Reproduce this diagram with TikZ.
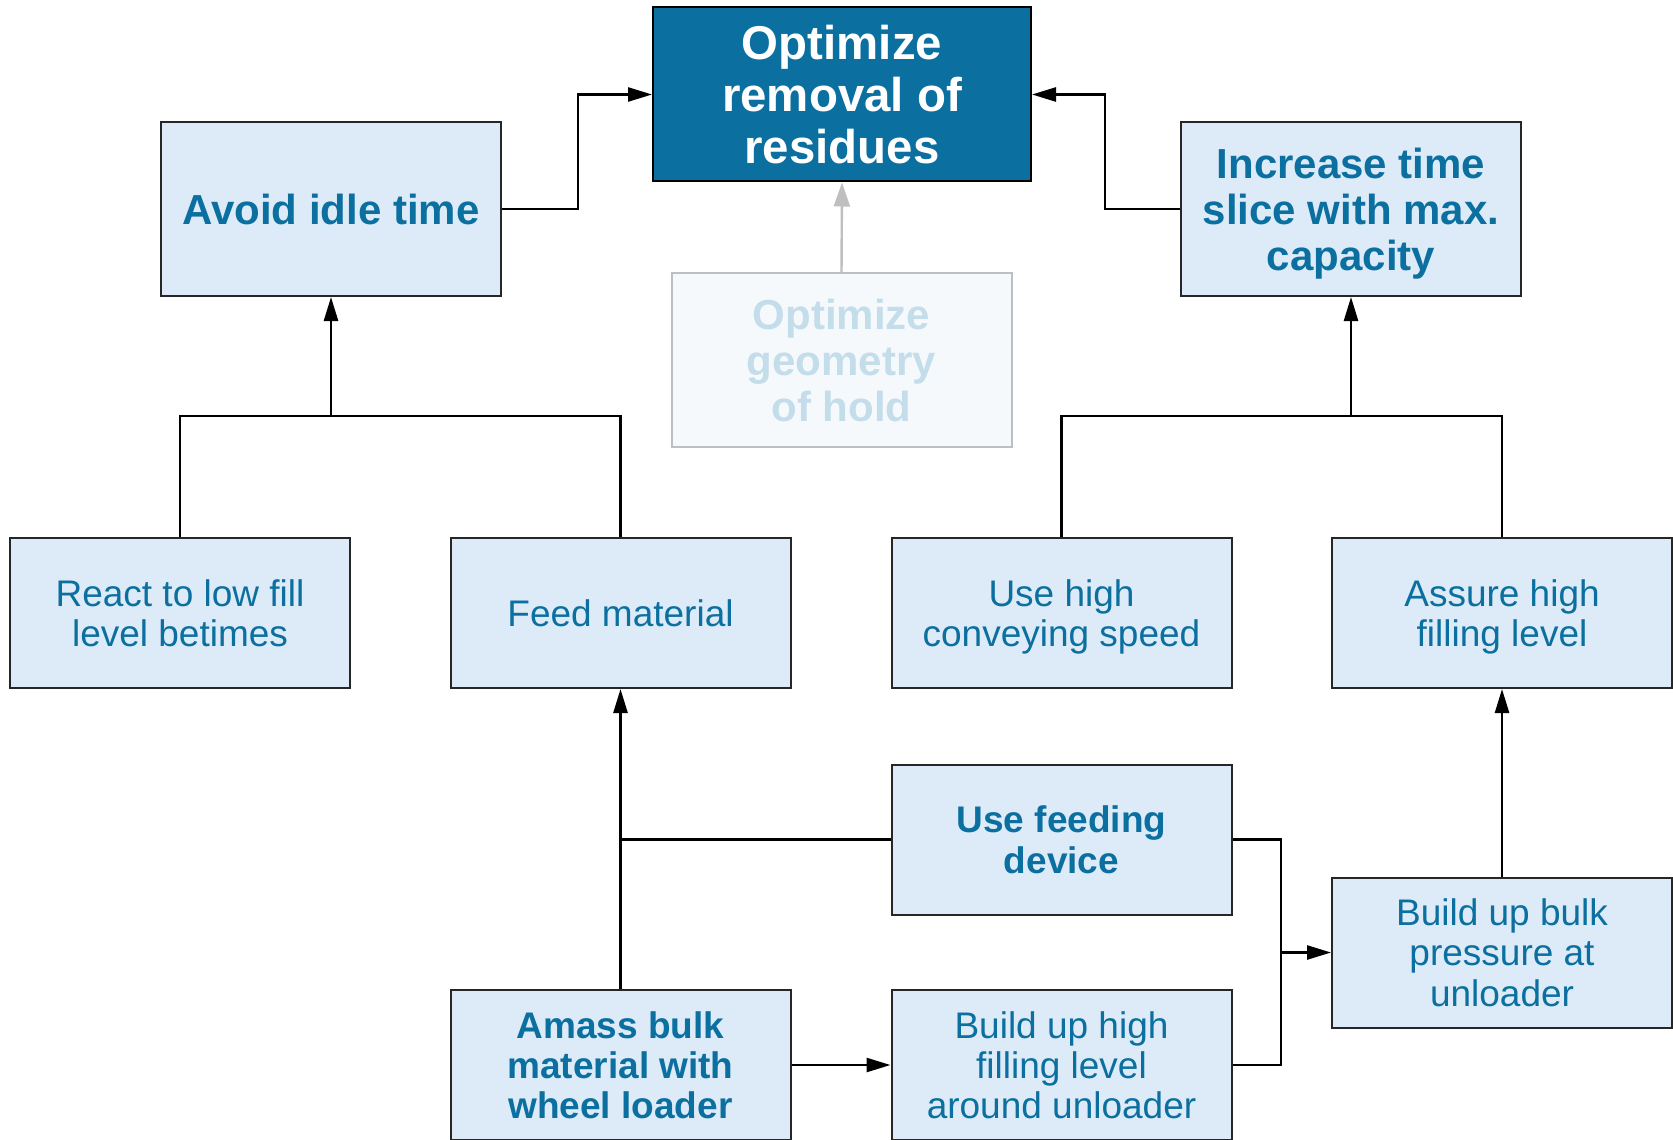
\documentclass[tikz,border=0pt]{standalone}
\usepackage{fontspec}
\setmainfont{Liberation Sans}
\usetikzlibrary{arrows.meta}

\definecolor{boxfill}{HTML}{DCEBF7}
\definecolor{boxtext}{HTML}{0B6FA0}
\definecolor{topfill}{HTML}{0B6FA0}
\definecolor{ghostfill}{HTML}{F5F9FC}
\definecolor{ghosttext}{HTML}{C4DDEA}
\definecolor{ghostline}{HTML}{BFBFBF}

\begin{document}
\begin{tikzpicture}[
		x=0.5pt, y=-0.5pt,
		every node/.style={rectangle, draw=black!85, line width=1pt, fill=boxfill, text=boxtext,
			align=center, inner sep=0pt, minimum width=170pt, minimum height=75pt, text depth=0pt,
			font=\fontsize{18.5}{20.2}\selectfont},
		goal/.style={minimum height=87pt, font=\bfseries\fontsize{21}{23}\selectfont},
		topgoal/.style={goal, minimum width=189pt, fill=topfill, text=white, draw=black,
			font=\bfseries\fontsize{23.7}{26}\selectfont},
		ghost/.style={goal, fill=ghostfill, draw=ghostline, text=ghosttext},
		strong/.style={font=\bfseries\fontsize{18.5}{20.2}\selectfont},
		conn/.style={-{Triangle[length=12pt, width=7pt]}, line width=1.3pt, black},
		plain/.style={line width=1.3pt, black},
		ghostconn/.style={-{Triangle[length=12pt, width=8pt]}, line width=1.2pt, ghostline}
	]
  \useasboundingbox (0,0) rectangle (1673,1139);

  % goals
  \node (main) [topgoal] at (842, 94.5) {Optimize\\removal of\\residues};
  \node (avoid) [goal] at (331, 209) {Avoid idle time};
  \node (incr) [goal] at (1351, 209) {Increase time\\slice with max.\\capacity};
  \node (geom) [ghost] at (841.5, 360) {Optimize\\geometry\\of hold};

  % second row
  \node (react) at (180, 613) {React to low fill\\level betimes};
  \node (feed) at (620.5, 613) {Feed material};
  \node (usehigh) at (1061.5, 613) {Use high\\conveying speed};
  \node (assure) at (1502, 613) {Assure high\\filling level};

  % measures
  \node (usefeed) [strong] at (1061.5, 839.5) {Use feeding\\device};
  \node (bulk) at (1502, 952.5) {Build up bulk\\pressure at\\unloader};
  \node (amass) [strong] at (620.5, 1065) {Amass bulk\\material with\\wheel loader};
  \node (buildhigh) at (1061.5, 1065) {Build up high\\filling level\\around unloader};

  \coordinate (leftjoin) at (331, 416);
  \coordinate (rightjoin) at (1351, 416);
  \coordinate (feedjoin) at (amass.north |- usefeed.west);
  \coordinate (bulkjoin) at (1281, 952.5);

  \draw [conn] (avoid.east) -- ++(76,0) |- (main.west);
  \draw [conn] (incr.west) -- ++(-75,0) |- (main.east);
  \draw [ghostconn] (geom.north) -- (main.south);

  \draw [plain] (react.north) |- (leftjoin) -| (feed.north);
  \draw [conn] (leftjoin) -- (avoid.south);
  \draw [plain] (usehigh.north) |- (rightjoin) -| (assure.north);
  \draw [conn] (rightjoin) -- (incr.south);

  \draw [conn] (amass.north) -- (feed.south);
  \draw [plain] (usefeed.west) -- (feedjoin);
  \draw [plain] (usefeed.east) -| (bulkjoin);
  \draw [plain] (buildhigh.east) -| (bulkjoin);
  \draw [conn] (bulkjoin) -- (bulk.west);
  \draw [conn] (amass.east) -- (buildhigh.west);
  \draw [conn] (bulk.north) -- (assure.south);
\end{tikzpicture}
\end{document}
